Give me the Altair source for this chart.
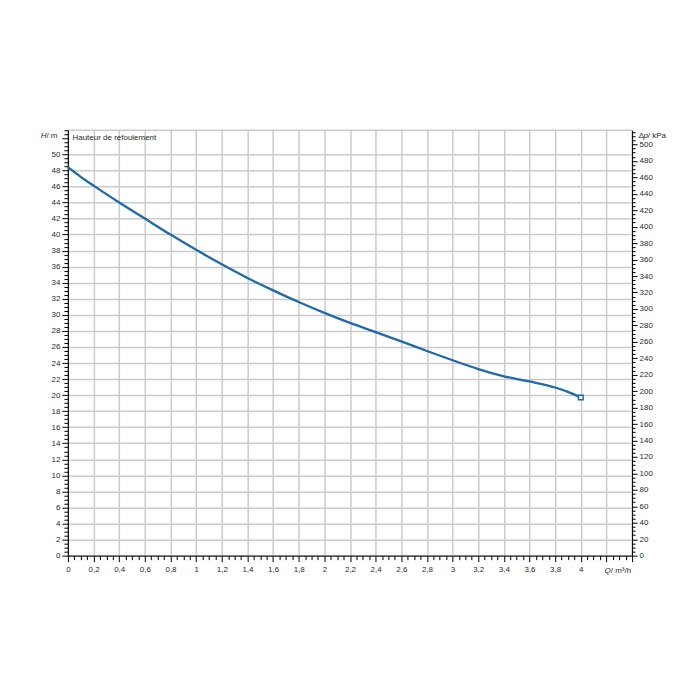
import altair as alt
import pandas as pd

# Pump curve: flow Q (m³/h) vs head H (m)
Q = [0, 0.1, 0.2, 0.4, 0.6, 0.8, 1.0, 1.2, 1.4, 1.6, 1.8, 2.0, 2.2, 2.4, 2.6,
     2.8, 3.0, 3.2, 3.4, 3.6, 3.8, 3.9, 4.0]
H = [48.4, 47.2, 46.1, 44.0, 42.0, 40.0, 38.1, 36.3, 34.6, 33.05, 31.6, 30.25,
     29.0, 27.85, 26.7, 25.5, 24.35, 23.25, 22.35, 21.7, 20.95, 20.4, 19.7]
END_Q = [4.0]
END_H = [19.7]
KPA_PER_M = 9.76

BLUE = "#1f6aad"
GRID = "#cbcbcb"
FONT = "Liberation Sans"
LBL = "#2a2a2a"

df = pd.DataFrame({"Q": Q, "H": H})
end_df = pd.DataFrame({"Q": END_Q, "H": END_H})

x_vals = [round(i * 0.05, 2) for i in range(89)]
y_vals = [round(i * 0.5, 1) for i in range(107)]
p_vals = [i * 5 for i in range(104)]

x_major = "abs(datum.value*5 - round(datum.value*5)) < 0.001"
y_major = "datum.value % 2 == 0"
p_major = "datum.value % 20 == 0"

x_axis = alt.Axis(
    values=x_vals, tickCount=1000, orient="bottom", title=None,
    labelExpr=f"({x_major}) && datum.value < 4.1 ? replace(format(datum.value, '~g'), '.', ',') : ''",
    labelOverlap=False, labelFlush=False, labelFont=FONT, labelFontSize=8,
    labelColor=LBL, labelPadding=4,
    tickSize={"condition": {"test": x_major, "value": 6}, "value": 4},
    tickColor="#000", tickWidth=1, domainColor="#000", domainWidth=1,
    grid=True, gridColor=GRID, gridWidth=1.5,
    gridOpacity={"condition": {"test": f"({x_major}) && datum.value > 0.01 && datum.value < 4.35", "value": 1}, "value": 0},
)

y_axis = alt.Axis(
    values=y_vals, tickCount=1000, orient="left", title=None,
    labelExpr=f"({y_major}) && datum.value <= 50 ? toString(datum.value) : ''",
    labelOverlap=False, labelFont=FONT, labelFontSize=8, labelColor=LBL,
    labelPadding=2, labelBaseline="middle",
    tickSize={"condition": {"test": y_major, "value": 6}, "value": 4},
    tickColor="#000", tickWidth=1, domainColor="#000", domainWidth=1,
    grid=True, gridColor=GRID, gridWidth=1.5,
    gridOpacity={"condition": {"test": f"({y_major}) && datum.value > 0 && datum.value <= 51", "value": 1}, "value": 0},
)

p_axis = alt.Axis(
    values=p_vals, tickCount=1000, orient="right", title=None,
    labelExpr=f"({p_major}) && datum.value <= 500 ? toString(datum.value) : ''",
    labelOverlap=False, labelFont=FONT, labelFontSize=8, labelColor=LBL,
    labelPadding=2, labelBaseline="middle",
    tickSize={"condition": {"test": p_major, "value": 5}, "value": 3},
    tickColor="#000", tickWidth=1, domainColor="#000", domainWidth=1,
    grid=False,
)

xs = alt.Scale(domain=[0, 4.4], nice=False)
ys = alt.Scale(domain=[0, 53], nice=False)
ps = alt.Scale(domain=[0, 53 * KPA_PER_M], nice=False)

line = alt.Chart(df).mark_line(color=BLUE, strokeWidth=2.3, interpolate="monotone").encode(
    x=alt.X("Q:Q", scale=xs, axis=x_axis),
    y=alt.Y("H:Q", scale=ys, axis=y_axis),
)

marker = alt.Chart(end_df).mark_point(
    shape="square", size=22, filled=False, fill="white", stroke=BLUE,
    strokeWidth=1.5, opacity=1,
).encode(
    x=alt.X("Q:Q", scale=xs),
    y=alt.Y("H:Q", scale=ys, axis=None),
)

pressure = alt.Chart(df).transform_calculate(p=f"datum.H*{KPA_PER_M}").mark_line(opacity=0).encode(
    x=alt.X("Q:Q", scale=xs),
    y=alt.Y("p:Q", scale=ps, axis=p_axis),
)


def txt(s, x, y, italic=False, align="left", size=8):
    kw = dict(align=align, baseline="middle", font=FONT, fontSize=size, color=LBL)
    if italic:
        kw["fontStyle"] = "italic"
    return alt.Chart(pd.DataFrame({"t": [s]})).mark_text(**kw).encode(
        text="t:N", x=alt.value(x), y=alt.value(y)
    )


texts = [
    txt("H", -21.5, 5.6, italic=True, align="right"),
    txt("/ m", -21.5, 5.6),
    txt("Hauteur de refoulement", 4.6, 8),
    txt("Δ", 571.6, 5.3),
    txt("p", 576.4, 5.3, italic=True),
    txt("/ kPa", 580.8, 5.3),
    txt("Q", 537.3, 441.5, italic=True),
    txt("/ m³/h", 543.6, 441.5),
]

chart = alt.layer(line, marker, pressure, *texts).resolve_scale(y="independent").properties(
    width=565, height=426,
    padding={"left": 60, "top": 122, "right": 60, "bottom": 60},
    autosize=alt.AutoSizeParams(type="none"),
    background="white",
).configure_view(stroke=GRID, strokeWidth=1.5)

chart.save("out.html", embed_options={"renderer": "svg", "actions": False})
